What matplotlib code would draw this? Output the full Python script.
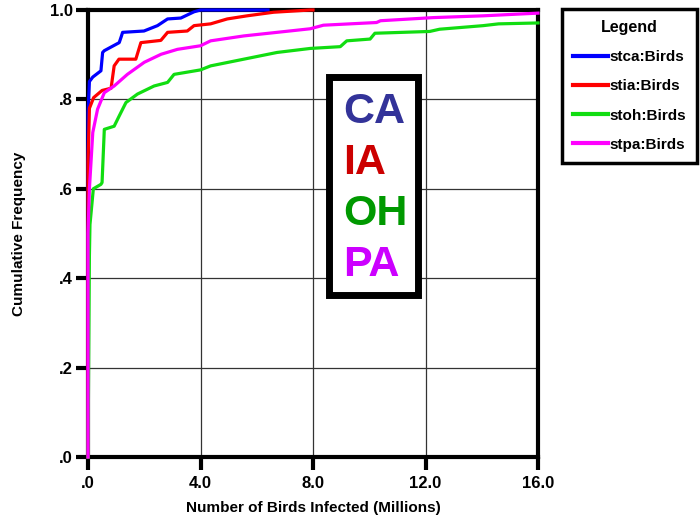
import matplotlib
matplotlib.use("Agg")
import matplotlib.pyplot as plt
from matplotlib.patches import Rectangle

plt.rcParams["font.family"] = ["Liberation Sans", "DejaVu Sans"]
plt.rcParams["font.weight"] = "bold"

# Cumulative frequency curves
stca_x = [0, 0, 0.05, 0.17, 0.46, 0.52, 0.58, 1.11, 1.18, 1.23, 1.99, 2.47, 2.83, 3.3, 3.77, 4.0, 6.4]
stca_y = [0, 0.77, 0.84, 0.85, 0.864, 0.905, 0.909, 0.927, 0.94, 0.95, 0.953, 0.965, 0.98, 0.982, 0.996, 1.0, 1.0]

stia_x = [0, 0, 0.05, 0.2, 0.5, 0.82, 0.93, 1.1, 1.7, 1.88, 2.59, 2.83, 3.53, 3.77, 4.36, 4.95, 5.66, 6.6, 7.9, 8.0]
stia_y = [0, 0.66, 0.78, 0.804, 0.82, 0.825, 0.875, 0.89, 0.89, 0.927, 0.932, 0.95, 0.953, 0.965, 0.969, 0.98, 0.987, 0.995, 1.0, 1.0]

stoh_x = [0, 0.05, 0.07, 0.19, 0.46, 0.5, 0.58, 0.93, 1.11, 1.35, 1.76, 2.35, 2.83, 3.06, 4.0, 4.36,
          5.54, 6.72, 7.9, 8.97, 9.2, 10.03, 10.2, 12.15, 12.5, 14.05, 14.6, 16.0]
stoh_y = [0, 0.45, 0.52, 0.60, 0.61, 0.614, 0.733, 0.74, 0.763, 0.793, 0.812, 0.83, 0.838, 0.856, 0.866, 0.875,
          0.89, 0.905, 0.914, 0.918, 0.931, 0.935, 0.948, 0.952, 0.957, 0.965, 0.969, 0.971]

stpa_x = [0, 0, 0.05, 0.17, 0.34, 0.58, 0.93, 1.4, 2.0, 2.6, 3.18, 4.0, 4.36, 5.54, 6.72, 7.9,
          8.37, 10.26, 10.4, 12.28, 14.05, 16.0]
stpa_y = [0, 0.5, 0.6, 0.726, 0.778, 0.815, 0.83, 0.856, 0.883, 0.901, 0.912, 0.92, 0.931, 0.942, 0.95, 0.958,
          0.966, 0.972, 0.976, 0.983, 0.987, 0.993]

series_names = ["stca:Birds", "stia:Birds", "stoh:Birds", "stpa:Birds"]
series_colors = ["#0000FF", "#FF0000", "#11DD11", "#FF00FF"]

state_labels = ["CA", "IA", "OH", "PA"]
state_colors = ["#333399", "#CC0000", "#009900", "#CC00FF"]

x_ticks = [0, 4, 8, 12, 16]
x_ticklabels = [".0", "4.0", "8.0", "12.0", "16.0"]
y_ticks = [0, 0.2, 0.4, 0.6, 0.8, 1.0]
y_ticklabels = [".0", ".2", ".4", ".6", ".8", "1.0"]

fig = plt.figure(figsize=(7, 5.18), dpi=100)
ax = fig.add_axes([88 / 700, 1 - 457 / 518, 450 / 700, 447 / 518])

handles = []
for xs, ys, name, col in zip([stca_x, stia_x, stoh_x, stpa_x],
                             [stca_y, stia_y, stoh_y, stpa_y],
                             series_names, series_colors):
    # lines sit on top of the frame, like in the original
    h, = ax.plot(xs, ys, color=col, lw=2.3, label=name, zorder=3, clip_on=False)
    handles.append(h)

ax.set_xlim(0, 16)
ax.set_ylim(0, 1.0)
ax.set_xticks(x_ticks)
ax.set_xticklabels(x_ticklabels)
ax.set_yticks(y_ticks)
ax.set_yticklabels(y_ticklabels)
ax.tick_params(axis="both", direction="out", length=9, width=3, labelsize=12)
ax.tick_params(axis="x", pad=5)
ax.tick_params(axis="y", pad=2)
ax.grid(True, color="#333333", lw=0.9)
ax.set_axisbelow(True)
for sp in ax.spines.values():
    sp.set_linewidth(3)

ax.set_xlabel("Number of Birds Infected (Millions)", fontsize=11, fontweight="bold", labelpad=7)
ax.set_ylabel("Cumulative Frequency", fontsize=11, fontweight="bold", labelpad=17)

# Box with state names
fig.patches.append(Rectangle((329 / 700, 1 - 295 / 518), 89 / 700, 218 / 518,
                             transform=fig.transFigure, facecolor="white",
                             edgecolor="black", lw=5, zorder=5))
for i, (lab, col) in enumerate(zip(state_labels, state_colors)):
    fig.text(343 / 700, 1 - (112 + 51 * i) / 518, lab, color=col, fontsize=31,
             fontweight="bold", ha="left", va="center", zorder=6)

leg = fig.legend(handles, series_names, loc="upper right",
                 bbox_to_anchor=(697 / 700, 1 - 9 / 518),
                 title="Legend", frameon=True, fancybox=False,
                 edgecolor="black", framealpha=1, fontsize=11,
                 title_fontproperties={"weight": "bold", "size": 11.5},
                 handlelength=2.3, handletextpad=0.1, labelspacing=1.0,
                 borderpad=0.7, borderaxespad=0)
leg.get_frame().set_linewidth(2.5)
for line in leg.get_lines():
    line.set_linewidth(3)

fig.savefig("out.png", dpi=100)
